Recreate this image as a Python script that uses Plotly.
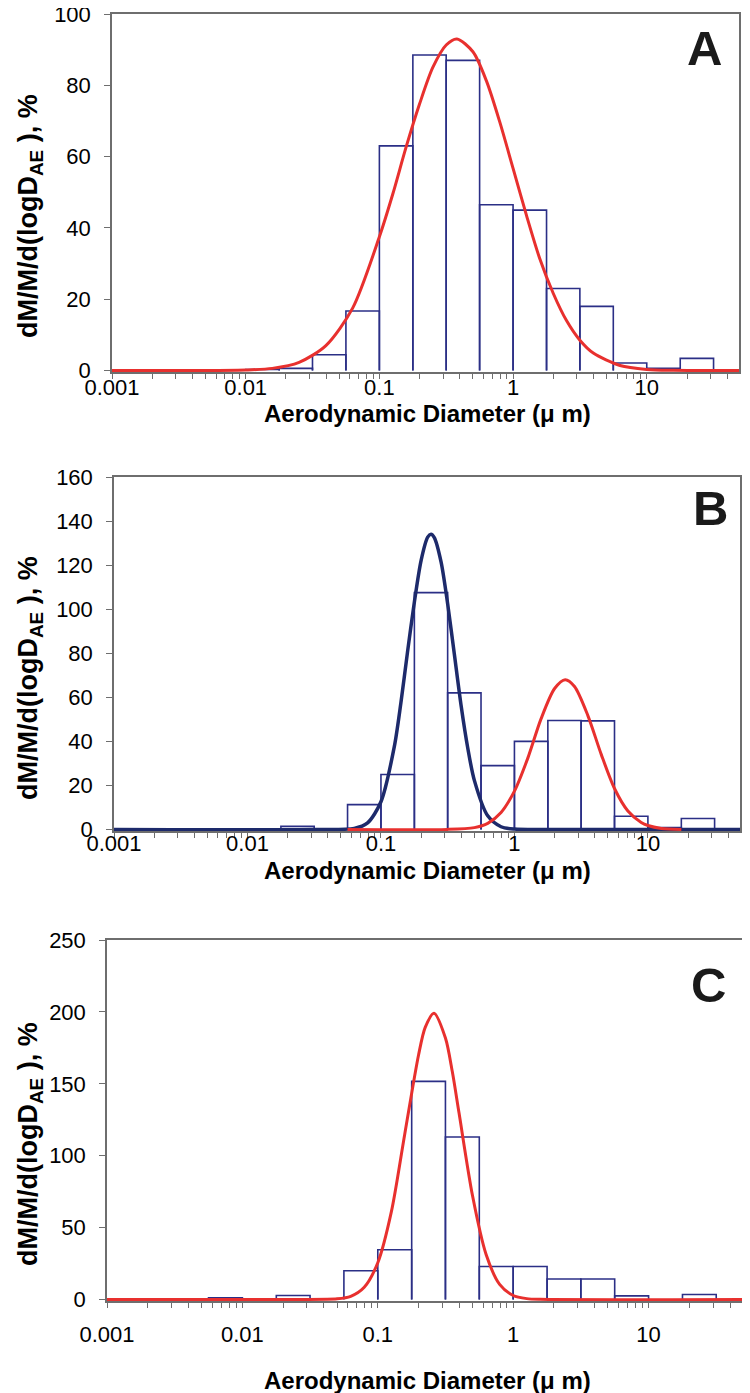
import plotly.graph_objects as go

# ---------------- data ----------------
bin_edges = [0.00562, 0.01, 0.0178, 0.0316, 0.0562, 0.1, 0.178, 0.316, 0.562,
             1.0, 1.78, 3.16, 5.62, 10.0, 17.8, 31.6]

heights_a = [0, 0.3, 0.6, 4.4, 16.7, 63, 88.5, 87, 46.5, 45, 23, 18, 2.1, 0.6, 3.4]
heights_b = [0, 0, 1.4, 0, 11.3, 25, 107.5, 62, 29, 40, 49.5, 49.3, 6, 0.9, 5]
heights_c = [1.2, 0, 2.8, 0, 20, 34.6, 151.7, 113, 23, 23, 14.3, 14.3, 2.5, 0, 3.5]

fit_a_x = [0.001, 0.00316, 0.01, 0.0158, 0.0251, 0.0398, 0.0631, 0.1, 0.126, 0.158,
           0.2, 0.251, 0.316, 0.38, 0.501, 0.631, 0.794, 1.0, 1.26, 1.58, 2.0, 2.51,
           3.16, 3.98, 6.31, 10.0, 15.8, 50]
fit_a_y = [0, 0, 0.15, 0.6, 2.3, 7, 17.5, 37.5, 49.5, 62.5, 74.8, 85, 91.3, 93, 89.4,
           81.3, 69.8, 56.7, 43.5, 31.5, 21.6, 14.0, 8.5, 4.9, 1.4, 0.3, 0.06, 0]

fit_b1_x = [0.001, 0.0316, 0.0631, 0.0794, 0.1, 0.126, 0.141, 0.158, 0.178, 0.2, 0.224,
            0.237, 0.251, 0.282, 0.316, 0.355, 0.398, 0.447, 0.501, 0.631, 0.794, 1.0,
            2.0, 50]
fit_b1_y = [0, 0, 0.5, 3.0, 12.6, 37.7, 57.4, 80.4, 103.3, 122.2, 132.7, 134, 132.5,
            121.5, 102.5, 79.4, 56.5, 37.0, 22.3, 6.2, 1.25, 0.18, 0, 0]

fit_b2_x = [0.0562, 0.316, 0.501, 0.631, 0.794, 1.0, 1.26, 1.58, 2.0, 2.4, 2.82, 3.55,
            4.47, 5.62, 7.08, 8.91, 10.0, 12.6, 17.8]
fit_b2_y = [0, 0.05, 0.86, 2.8, 7.7, 17.4, 32.4, 50.1, 64.0, 68, 64.9, 51.7, 34.1,
            18.6, 8.4, 3.2, 1.8, 0.5, 0.05]

fit_c_x = [0.001, 0.0251, 0.0501, 0.0631, 0.0794, 0.1, 0.126, 0.158, 0.2, 0.224, 0.26,
           0.316, 0.355, 0.398, 0.501, 0.631, 0.794, 1.0, 1.26, 1.58, 50]
fit_c_y = [0, 0, 0.45, 2.2, 8.5, 25.6, 61.1, 114.8, 170, 189.2, 199, 181.8, 158.5,
           129.8, 72.1, 31.3, 10.5, 2.8, 0.6, 0.1, 0]

x_tick_vals = [m * 10 ** e for e in range(-3, 2) for m in range(1, 10)]
decade_labels = {0.001: "0.001", 0.01: "0.01", 0.1: "0.1", 1: "1", 10: "10"}

panel_labels = ["A", "B", "C"]
y_max = [100, 160, 250]
y_step = [20, 20, 50]

# ---------------- styling ----------------
OFF = 8                      # page body margin of the browser
W, H = 750 - OFF, 1393 - OFF
BAR_COL = "#2b2f86"
RED = "#e8302e"
NAVY = "#1d2a6b"
AX_COL = "#6e6e6e"
FONT = "Liberation Sans, Arial, sans-serif"

# panel boxes in page pixels: (left, right, top, bottom)
boxes = [(112, 739, 14, 372), (114, 740, 477, 831), (107, 742, 940, 1301)]
xtitle_y = [414, 870, 1380]
ytitle_c = [216, 678, 1144]
letter_pos = [(704, 48), (710, 508), (708, 985)]
xlabel_standoff = [-10, -13, 8]


def px(x):
    return (x - OFF) / W


def py(y):
    return 1 - (y - OFF) / H


def outline(edges, heights):
    xs, ys = [], []
    for i, h in enumerate(heights):
        if h <= 0:
            continue
        x0, x1 = edges[i], edges[i + 1]
        xs += [x0, x0, x1, x1, None]
        ys += [0, h, h, 0, None]
    return xs, ys


fig = go.Figure()

for k, hts in enumerate([heights_a, heights_b, heights_c]):
    xs, ys = outline(bin_edges, hts)
    ax = "" if k == 0 else str(k + 1)
    fig.add_trace(go.Scatter(x=xs, y=ys, mode="lines", xaxis="x" + ax, yaxis="y" + ax,
                             line=dict(color=BAR_COL, width=1.6), showlegend=False,
                             hoverinfo="skip"))

fig.add_trace(go.Scatter(x=fit_a_x, y=fit_a_y, mode="lines", xaxis="x", yaxis="y",
                         line=dict(color=RED, width=3, shape="spline", smoothing=0.8),
                         showlegend=False))
fig.add_trace(go.Scatter(x=fit_b1_x, y=fit_b1_y, mode="lines", xaxis="x2", yaxis="y2",
                         line=dict(color=NAVY, width=3.5, shape="spline", smoothing=0.8),
                         showlegend=False))
fig.add_trace(go.Scatter(x=fit_b2_x, y=fit_b2_y, mode="lines", xaxis="x2", yaxis="y2",
                         line=dict(color=RED, width=3, shape="spline", smoothing=0.8),
                         showlegend=False))
fig.add_trace(go.Scatter(x=fit_c_x, y=fit_c_y, mode="lines", xaxis="x3", yaxis="y3",
                         line=dict(color=RED, width=3, shape="spline", smoothing=0.8),
                         showlegend=False))

layout = dict(width=W, height=H, margin=dict(l=0, r=0, t=0, b=0, autoexpand=False),
              paper_bgcolor="white", plot_bgcolor="white",
              font=dict(family=FONT, color="black"))

ticktext_full = [decade_labels.get(round(v, 6), "") for v in x_tick_vals]

annotations = []
for k, (l, r, t, b) in enumerate(boxes):
    ax = "" if k == 0 else str(k + 1)
    pad = 1.5 * y_max[k] / (b - t)
    layout["xaxis" + ax] = dict(
        type="log", range=[-3, 1.69], domain=[px(l), px(r)], anchor="y" + ax,
        automargin=False, ticklabeloverflow="allow",
        tickmode="array", tickvals=x_tick_vals, ticktext=ticktext_full,
        ticks="outside", ticklen=5, tickwidth=1, tickcolor=AX_COL,
        showline=True, linecolor=AX_COL, linewidth=1.5, mirror=True,
        showgrid=False, zeroline=False, ticklabelstandoff=xlabel_standoff[k],
        tickfont=dict(size=22, color="black"))
    layout["yaxis" + ax] = dict(
        range=[-pad, y_max[k]], domain=[py(b), py(t)], anchor="x" + ax,
        automargin=False, ticklabeloverflow="allow",
        tick0=0, dtick=y_step[k], ticks="outside", ticklen=6, tickwidth=1,
        tickcolor=AX_COL, showline=True, linecolor=AX_COL, linewidth=1.5, mirror=True,
        showgrid=False, zeroline=False, ticklabelstandoff=9,
        tickfont=dict(size=22, color="black"))
    lx, ly = letter_pos[k]
    annotations.append(dict(text="<b>%s</b>" % panel_labels[k], x=px(lx), y=py(ly),
                            xref="paper", yref="paper",
                            xanchor="center", yanchor="middle", showarrow=False,
                            font=dict(size=49, family=FONT, color="#1a1a1a")))
    annotations.append(dict(text="<b>dM/M/d(logD<sub>AE</sub> ), %</b>", x=px(30),
                            y=py(ytitle_c[k]), xref="paper", yref="paper",
                            xanchor="center", yanchor="middle", textangle=-90,
                            showarrow=False, font=dict(size=27, family=FONT)))
    annotations.append(dict(text="<b>Aerodynamic Diameter (μ m)</b>", x=px(427),
                            y=py(xtitle_y[k]), xref="paper", yref="paper",
                            xanchor="center", yanchor="middle", showarrow=False,
                            font=dict(size=24, family=FONT)))

layout["annotations"] = annotations
fig.update_layout(**layout)
fig.write_html("out.html")
